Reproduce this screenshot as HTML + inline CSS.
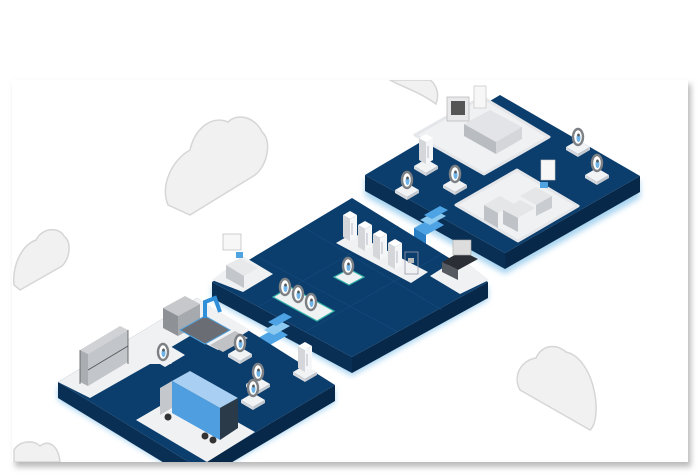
<!DOCTYPE html>
<html><head><meta charset="utf-8"><style>
html,body{margin:0;padding:0;background:#fff;}
svg{display:block;}
</style></head><body>
<svg width="700" height="474" viewBox="0 0 700 474" xmlns="http://www.w3.org/2000/svg">
<defs>
<filter id="sh" x="-5%" y="-5%" width="110%" height="115%"><feGaussianBlur stdDeviation="3"/></filter>
<filter id="gl" x="-10%" y="-10%" width="120%" height="130%"><feGaussianBlur stdDeviation="3"/></filter>
<clipPath id="card"><rect x="12" y="80" width="676" height="382"/></clipPath>
<g id="fridge">
<polygon points="0,4 7,8 7,30 0,26" fill="#d4d6d9"/>
<polygon points="7,8 14,4 14,26 7,30" fill="#f5f6f7"/>
<polygon points="0,4 7,0 14,4 7,8" fill="#fff"/>
<line x1="9" y1="12" x2="9" y2="24" stroke="#aab" stroke-width="0.8"/>
</g>
<g id="ring">
<ellipse cx="0" cy="0" rx="5" ry="8" fill="#fff" stroke="#7d8084" stroke-width="2.4"/>
<ellipse cx="0.5" cy="1" rx="2" ry="4" fill="#6fb3e8"/>
<ellipse cx="0.5" cy="-2" rx="1.3" ry="1.5" fill="#555"/>
</g>
<g id="pad">
<polygon points="-12,0 0,-7 12,0 0,7" fill="#f2f3f5"/>
<polygon points="-12,0 0,7 0,10 -12,3" fill="#d6d9de"/>
<polygon points="0,7 12,0 12,3 0,10" fill="#c4c9d0"/>
</g>
</defs>

<rect x="15" y="84" width="676" height="383" fill="#bbb" filter="url(#sh)"/>
<rect x="12" y="80" width="676" height="382" fill="#fff"/>

<g clip-path="url(#card)">
<!-- clouds -->
<g fill="#f1f1f1" stroke="#d6d6d6" stroke-width="1.5">
<path d="M168,205 C160,185 172,160 190,150 C195,128 212,115 228,122 C238,112 256,118 262,132 C272,140 268,165 255,175 L190,215 Z"/>
<path d="M14,285 C12,265 22,245 36,240 C42,228 58,226 64,236 C72,242 70,258 62,266 L20,290 Z"/>
<path d="M520,390 C512,375 522,360 536,358 C542,345 556,343 566,352 C580,355 590,372 594,390 C598,408 596,425 590,430 Z"/>
<path d="M390,80 C400,86 420,92 436,104 C440,94 436,84 430,80 Z"/>
<path d="M14,450 C20,440 34,440 40,446 C48,440 58,444 60,462 L14,462 Z"/>
</g>

<!-- TOP-RIGHT PLATFORM -->
<polygon points="365,178 505,256 640,180 640,198 505,274 365,196" fill="#a8d4f0" filter="url(#gl)"/>
<polygon points="365,175 505,253 505,269 365,191" fill="#0a2f55"/>
<polygon points="505,253 640,176 640,192 505,269" fill="#072848"/>
<polygon points="500,95 640,176 505,253 365,175" fill="#0b3e6d"/>
<!-- rooms -->
<polygon points="482,97 549,137 484,174 415,135" fill="#f0f1f3" stroke="#e4e6ea" stroke-width="3" stroke-linejoin="round"/>
<polygon points="517,170 578,206 518,241 456,205" fill="#f0f1f3" stroke="#e4e6ea" stroke-width="3" stroke-linejoin="round"/>
<!-- table upper -->
<polygon points="464,124 490,110 522,127 496,142" fill="#e2e4e7"/>
<polygon points="464,124 496,142 496,154 464,136" fill="#b9bcc0"/>
<polygon points="496,142 522,127 522,139 496,154" fill="#d4d6d9"/>
<rect x="447" y="97" width="22" height="24" fill="#e8e8ea" stroke="#bbb" stroke-width="0.8"/>
<rect x="451" y="101" width="14" height="14" fill="#555"/>
<rect x="474" y="86" width="12" height="22" fill="#f7f7f7" stroke="#ccc" stroke-width="0.8"/>
<!-- lower desks -->
<polygon points="484,205 500,196 514,204 498,213" fill="#e5e6e8"/>
<polygon points="484,205 498,213 498,228 484,220" fill="#bfc2c6"/>
<polygon points="503,210 520,200 535,208 518,218" fill="#e5e6e8"/>
<polygon points="503,210 518,218 518,232 503,224" fill="#bfc2c6"/>
<polygon points="520,196 536,187 552,196 536,205" fill="#e5e6e8"/>
<polygon points="536,205 552,196 552,208 536,216" fill="#c9ccd0"/>
<rect x="541" y="160" width="14" height="20" fill="#f7f7f7" stroke="#ccc" stroke-width="0.6"/>
<rect x="540" y="182" width="8" height="6" fill="#4fa3e0"/>
<!-- small pads + rings -->
<use href="#pad" x="578" y="147"/><use href="#ring" x="578" y="137"/>
<use href="#pad" x="597" y="175"/><use href="#ring" x="597" y="163"/>
<use href="#pad" x="407" y="190"/><use href="#ring" x="407" y="180"/>
<use href="#pad" x="455" y="185"/><use href="#ring" x="455" y="174"/>
<use href="#pad" x="426" y="166"/>
<use href="#fridge" x="419" y="134"/>

<!-- stairs top -->
<polygon points="414,228 432,218 444,225 426,235" fill="#4da3e3"/>
<polygon points="420,220 436,211 446,216 430,225" fill="#8ccaf2"/>
<polygon points="424,215 440,206 448,210 432,219" fill="#4da3e3"/>
<polygon points="414,228 426,235 426,244 414,238" fill="#2a7fc4"/>

<!-- MIDDLE PLATFORM -->
<polygon points="212,285 352,360 488,285 488,300 352,376 212,300" fill="#a8d4f0" filter="url(#gl)"/>
<polygon points="212,282 352,357 352,373 212,298" fill="#0a2f55"/>
<polygon points="352,357 488,282 488,298 352,373" fill="#072848"/>
<polygon points="352,198 488,282 352,357 212,282" fill="#0b3e6d"/>
<g stroke="#1a5285" stroke-width="0.6" opacity="0.7">
<line x1="258" y1="257" x2="398" y2="332"/><line x1="305" y1="228" x2="442" y2="310"/>
<line x1="258" y1="307" x2="398" y2="226"/><line x1="305" y1="332" x2="442" y2="254"/>
</g>
<!-- pads -->
<polygon points="243,256 273,274 243,292 212,280" fill="#f0f1f3"/>
<polygon points="460,257 489,280 460,294 430,276" fill="#f0f1f3"/>
<polygon points="336,243 353,233 428,272 411,283" fill="#f0f1f3"/>
<polygon points="334,277 349,269 364,277 349,285" fill="#eef2f2" stroke="#36b3a8" stroke-width="1.2"/>
<polygon points="273,297 290,287 334,311 317,321" fill="#eef2f2" stroke="#36b3a8" stroke-width="1.2"/>
<!-- fridges -->
<use href="#fridge" x="343" y="211"/>
<use href="#fridge" x="358" y="221"/>
<use href="#fridge" x="373" y="230"/>
<use href="#fridge" x="388" y="239"/>
<rect x="405" y="252" width="13" height="22" fill="none" stroke="#99a" stroke-width="0.8"/>
<rect x="408" y="258" width="6" height="5" fill="#bbb"/>
<!-- desk left -->
<polygon points="226,265 240,258 258,268 244,276" fill="#e8e9eb"/>
<polygon points="226,265 244,276 244,288 226,278" fill="#c3c6ca"/>
<rect x="223" y="234" width="18" height="16" fill="#f7f7f7" stroke="#bbb" stroke-width="0.7"/>
<rect x="236" y="252" width="7" height="6" fill="#4fa3e0"/>
<!-- black machine -->
<polygon points="442,262 462,251 478,259 458,270" fill="#2b2f35"/>
<polygon points="442,262 458,270 458,280 442,272" fill="#555a60"/>
<rect x="453" y="240" width="18" height="15" fill="#ddd" stroke="#aaa" stroke-width="0.6"/>
<!-- rings -->
<use href="#ring" x="348" y="266"/>
<use href="#ring" x="285" y="287"/>
<use href="#ring" x="298" y="294"/>
<use href="#ring" x="311" y="302"/>

<!-- stairs bottom -->
<polygon points="258,338 276,328 288,335 270,345" fill="#4da3e3"/>
<polygon points="264,330 280,321 290,326 274,335" fill="#8ccaf2"/>
<polygon points="268,322 284,313 292,317 276,326" fill="#4da3e3"/>
<polygon points="258,338 270,345 270,354 258,348" fill="#2a7fc4"/>

<!-- BOTTOM-LEFT PLATFORM -->
<polygon points="58,385 197,470 335,388 335,403 197,483 58,400" fill="#a8d4f0" filter="url(#gl)"/>
<polygon points="58,382 197,467 197,483 58,398" fill="#0a2f55"/>
<polygon points="197,467 335,385 335,401 197,483" fill="#072848"/>
<polygon points="197,298 335,385 197,467 58,382" fill="#0b3e6d"/>
<!-- white areas -->
<polygon points="58,382 197,298 250,330 218,350 190,336 158,355 172,364 150,364 90,398" fill="#f0f1f3"/>
<polygon points="150,358 170,346 185,355 165,367" fill="#f0f1f3"/>
<polygon points="136,420 184,392 255,432 207,462" fill="#f0f1f3"/>
<use href="#pad" x="240" y="354"/>
<use href="#pad" x="258" y="384"/>
<use href="#pad" x="253" y="400"/>
<use href="#pad" x="305" y="372"/>
<!-- shelf -->
<polygon points="80,350 120,326 128,330 88,354" fill="#d0d2d5"/>
<polygon points="80,350 88,354 88,386 80,382" fill="#aaadb1"/>
<polygon points="88,354 128,330 128,362 88,386" fill="#c2c5c9"/>
<g stroke="#555" stroke-width="0.8" fill="none"><line x1="88" y1="370" x2="128" y2="346"/><line x1="80" y1="350" x2="80" y2="384"/><line x1="128" y1="330" x2="128" y2="364"/></g>
<!-- robot -->
<polygon points="163,308 185,296 200,304 178,316" fill="#c6c8cb"/>
<polygon points="163,308 178,316 178,336 163,328" fill="#8e9196"/>
<polygon points="178,316 200,304 200,324 178,336" fill="#a6a9ad"/>
<polygon points="180,330 205,316 230,330 205,344" fill="#6a6e74" stroke="#4fa3e0" stroke-width="1"/>
<path d="M205,318 L205,302 L215,298 L220,312" stroke="#2f8fd8" stroke-width="4" fill="none"/>
<polygon points="210,345 235,331 248,338 223,352" fill="#c0c2c5"/>
<use href="#ring" x="163" y="352"/>
<use href="#ring" x="240" y="343"/>
<use href="#ring" x="258" y="372"/>
<use href="#ring" x="253" y="388"/>
<use href="#fridge" x="298" y="342"/>
<!-- truck -->
<polygon points="160,388 172,381 172,408 160,415" fill="#c4c7cb"/>
<polygon points="172,381 190,371 238,398 220,408" fill="#a9d0f2"/>
<polygon points="172,381 220,408 220,440 172,413" fill="#4e9ee0"/>
<polygon points="220,408 238,398 238,428 220,440" fill="#2b3a48"/>
<circle cx="168" cy="417" r="3.5" fill="#333"/>
<circle cx="205" cy="436" r="3.5" fill="#333"/>
<circle cx="213" cy="440" r="3.5" fill="#333"/>
</g>
</svg>
</body></html>
